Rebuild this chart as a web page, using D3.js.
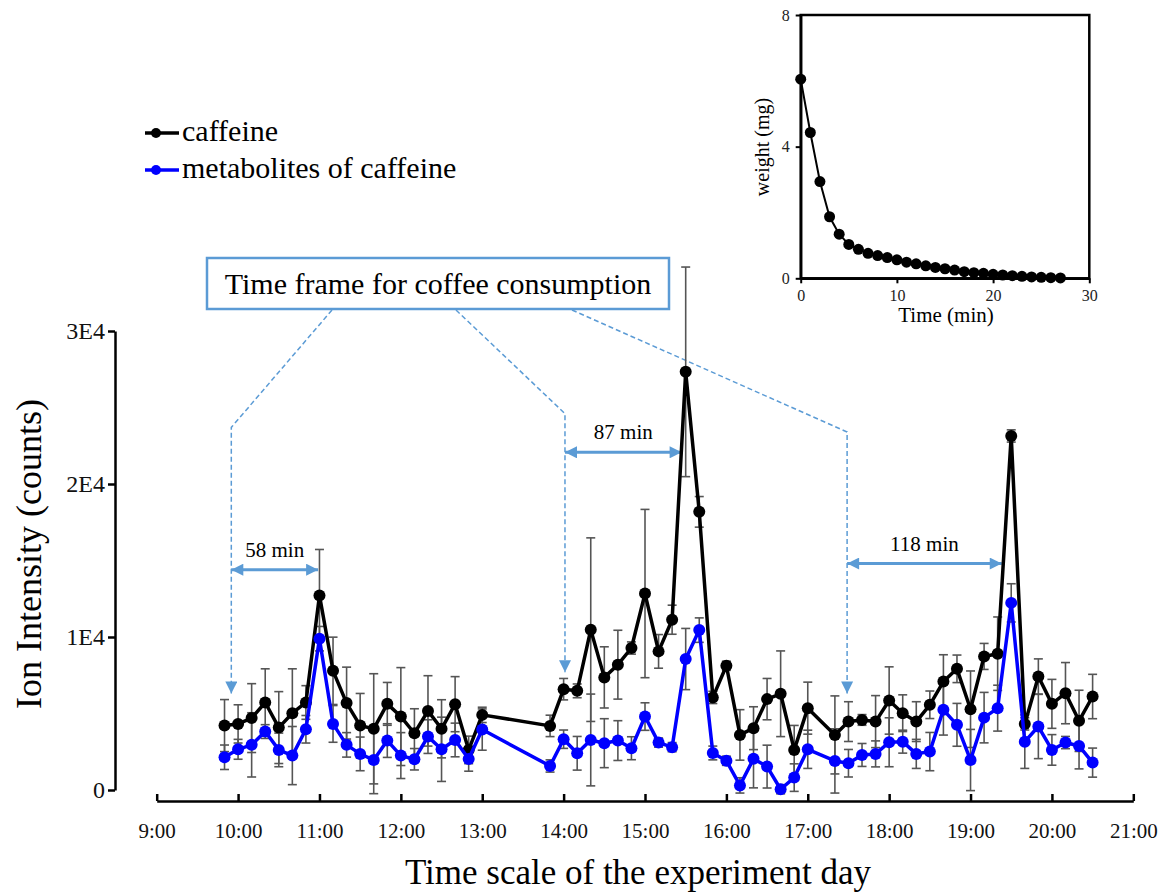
<!DOCTYPE html>
<html>
<head>
<meta charset="utf-8">
<script src="https://cdn.jsdelivr.net/npm/d3@7"></script>
<style>
  body { margin: 0; background: #fff; }
  svg text { font-family: "Liberation Serif", "Times New Roman", serif !important; }
</style>
</head>
<body>
<svg id="svg" width="1172" height="895"></svg>
<script>
// sampling times (clock time)
const times = ["9:50","10:00","10:10","10:20","10:30","10:40","10:50","11:00","11:10","11:20",
  "11:30","11:40","11:50","12:00","12:10","12:20","12:30","12:40","12:50","13:00",
  "13:50","14:00","14:10","14:20","14:30","14:40","14:50","15:00","15:10","15:20",
  "15:30","15:40","15:50","16:00","16:10","16:20","16:30","16:40","16:50","17:00",
  "17:20","17:30","17:40","17:50","18:00","18:10","18:20","18:30","18:40","18:50",
  "19:00","19:10","19:20","19:30","19:40","19:50","20:00","20:10","20:20","20:30"];

const caffeine = [4210,4320,4700,5720,4080,5020,5720,12720,7790,5680,
  4210,4000,5630,4800,3710,5170,4000,5610,2620,4910,
  4190,6590,6480,10480,7360,8190,9280,12840,9060,11130,
  27330,18180,6050,8120,3600,4040,5940,6290,2620,5350,
  3600,4470,4580,4470,5850,5020,4470,5570,7090,7920,
  5280,8730,8910,23140,4320,7420,5630,6330,4520,6110];
const caffeineErr = [1700,1250,2250,2200,2350,2900,1100,3000,2200,2350,
  2100,3600,1400,3200,1600,2300,1900,1800,900,500,
  700,700,450,6000,2000,2250,400,5500,1100,950,
  6850,1000,400,300,1650,1400,1350,2800,1600,1700,
  2550,1300,350,1700,2200,1200,1300,900,1750,900,
  2500,850,2400,400,400,1150,1600,2000,2000,1450];

const metabolites = [2140,2660,2950,3820,2620,2250,3970,9890,4320,2950,
  2360,1960,3230,2250,2010,3490,2660,3270,2030,3950,
  1570,3320,2400,3270,3060,3230,2730,4800,3100,2800,
  8560,10450,2420,1910,300,2040,1530,50,810,2660,
  1900,1750,2290,2360,3120,3160,2360,2510,5240,4260,
  1960,4730,5350,12230,3160,4150,2620,3100,2880,1790];
const metabolitesErr = [800,650,2100,450,1100,1900,900,800,1200,800,
  1100,2200,1100,1500,700,1100,2100,1100,800,1350,
  400,600,1100,3000,1600,1300,750,900,300,300,
  2000,800,450,300,500,1900,1400,300,900,1250,
  2100,900,750,850,1600,750,950,1250,1650,1400,
  2000,1650,1500,1250,1750,2100,1000,400,1500,950];

const xTicks = ["9:00","10:00","11:00","12:00","13:00","14:00","15:00","16:00","17:00","18:00","19:00","20:00","21:00"];
const yTicks = [0, 10000, 20000, 30000];
const yTickLabels = ["0","1E4","2E4","3E4"];

// inset: weight of coffee sample vs time
const insetTime = [0,1,2,3,4,5,6,7,8,9,10,11,12,13,14,15,16,17,18,19,20,21,22,23,24,25,26,27];
const insetWeight = [6.05,4.43,2.94,1.87,1.34,1.03,0.88,0.76,0.69,0.63,0.56,0.49,0.44,0.38,0.33,
  0.29,0.25,0.20,0.17,0.15,0.12,0.10,0.08,0.06,0.04,0.03,0.02,0.01];

// coffee consumption markers: start time, knee height, arrow end time, arrow height, label
const intakes = [
  {start: "9:55", knee: 23700, tip: 6300, end: "10:59", arrowY: 14400, label: "58 min", boxX: 332},
  {start: "14:01", knee: 24600, tip: 7700, end: "15:27", arrowY: 22070, label: "87 min", boxX: 456},
  {start: "17:29", knee: 23400, tip: 6300, end: "19:23", arrowY: 14800, label: "118 min", boxX: 572}
];

const toMin = s => { const p = s.split(":"); return +p[0] * 60 + +p[1]; };

const svg = d3.select("#svg");
const annoBlue = "#5b9bd5";

const x = d3.scaleLinear().domain([540, 1260]).range([156.7, 1133.3]);
const y = d3.scaleLinear().domain([0, 30000]).range([790, 331]);

// arrow markers
const defs = svg.append("defs");
defs.append("marker").attr("id", "ah")
    .attr("viewBox", "0 0 10 10").attr("refX", 10).attr("refY", 5)
    .attr("markerWidth", 4.5).attr("markerHeight", 4)
    .attr("markerUnits", "strokeWidth").attr("orient", "auto-start-reverse")
  .append("path").attr("d", "M0,0L10,5L0,10z").attr("fill", annoBlue);
defs.append("marker").attr("id", "ahd")
    .attr("viewBox", "0 0 10 10").attr("refX", 10).attr("refY", 5)
    .attr("markerWidth", 14).attr("markerHeight", 12)
    .attr("markerUnits", "userSpaceOnUse").attr("orient", "auto")
  .append("path").attr("d", "M0,0L10,5L0,10z").attr("fill", annoBlue);

// axes
const yAxis = svg.append("g")
    .attr("transform", "translate(115,0)")
    .call(d3.axisLeft(y).tickValues(yTicks).tickFormat((d, i) => yTickLabels[i]).tickSize(7).tickPadding(3).tickSizeOuter(0));
yAxis.select(".domain").attr("stroke-width", 2.5);
yAxis.selectAll(".tick line").attr("stroke-width", 2.5);
yAxis.selectAll("text").attr("font-size", 24).attr("fill", "#111");

const xAxis = svg.append("g")
    .attr("transform", "translate(0,801)")
    .call(d3.axisBottom(x).tickValues(xTicks.map(toMin)).tickFormat((d, i) => xTicks[i]).tickSize(-7).tickPadding(22).tickSizeOuter(0));
xAxis.select(".domain").attr("stroke-width", 2.5);
xAxis.selectAll(".tick line").attr("stroke-width", 2.5);
xAxis.selectAll("text").attr("font-size", 21).attr("fill", "#111");

svg.append("text")
    .attr("transform", "translate(41,554) rotate(-90)")
    .attr("text-anchor", "middle")
    .attr("font-size", 36)
    .text("Ion Intensity (counts)");

svg.append("text")
    .attr("x", 638).attr("y", 884)
    .attr("text-anchor", "middle")
    .attr("font-size", 35)
    .text("Time scale of the experiment day");

// consumption annotations
svg.append("rect")
    .attr("x", 207).attr("y", 258).attr("width", 462).attr("height", 51)
    .attr("fill", "#fff").attr("stroke", annoBlue).attr("stroke-width", 2.5);
svg.append("text")
    .attr("x", 438).attr("y", 294)
    .attr("text-anchor", "middle")
    .attr("font-size", 30)
    .text("Time frame for coffee consumption");

intakes.forEach(d => {
  const xs = x(toMin(d.start));
  svg.append("path")
      .attr("d", "M" + d.boxX + ",310L" + xs + "," + y(d.knee) + "L" + xs + "," + y(d.tip))
      .attr("fill", "none").attr("stroke", annoBlue).attr("stroke-width", 1.5)
      .attr("stroke-dasharray", "5,3")
      .attr("marker-end", "url(#ahd)");
  svg.append("line")
      .attr("x1", xs).attr("x2", x(toMin(d.end)))
      .attr("y1", y(d.arrowY)).attr("y2", y(d.arrowY))
      .attr("stroke", annoBlue).attr("stroke-width", 3)
      .attr("marker-start", "url(#ah)").attr("marker-end", "url(#ah)");
  svg.append("text")
      .attr("x", (xs + x(toMin(d.end))) / 2).attr("y", y(d.arrowY) - 13)
      .attr("text-anchor", "middle")
      .attr("font-size", 21)
      .text(d.label);
});

// series data
const mk = (vals, errs) => times.map((t, i) => ({t: toMin(t), v: vals[i], e: errs[i]}));
const series = [
  {name: "caffeine", color: "#000", data: mk(caffeine, caffeineErr)},
  {name: "metabolites of caffeine", color: "#0000ff", data: mk(metabolites, metabolitesErr)}
];

// error bars
series.forEach(s => {
  const g = svg.append("g").attr("stroke", "#555").attr("stroke-width", 1.6);
  s.data.forEach(d => {
    const cx = x(d.t);
    g.append("line").attr("x1", cx).attr("x2", cx).attr("y1", y(d.v - d.e)).attr("y2", y(d.v + d.e));
    g.append("line").attr("x1", cx - 4.5).attr("x2", cx + 4.5).attr("y1", y(d.v - d.e)).attr("y2", y(d.v - d.e));
    g.append("line").attr("x1", cx - 4.5).attr("x2", cx + 4.5).attr("y1", y(d.v + d.e)).attr("y2", y(d.v + d.e));
  });
});

const line = d3.line().x(d => x(d.t)).y(d => y(d.v));
series.forEach(s => {
  svg.append("path").datum(s.data)
      .attr("d", line).attr("fill", "none")
      .attr("stroke", s.color).attr("stroke-width", 3.5).attr("stroke-linejoin", "round");
  svg.append("g").selectAll("circle").data(s.data).enter().append("circle")
      .attr("cx", d => x(d.t)).attr("cy", d => y(d.v)).attr("r", 6)
      .attr("fill", s.color);
});

// legend
const legend = svg.append("g").selectAll("g").data(series).enter().append("g")
    .attr("transform", (d, i) => "translate(145," + (133 + i * 37) + ")");
legend.append("line").attr("x1", 0).attr("x2", 34).attr("stroke", d => d.color).attr("stroke-width", 3.5);
legend.append("circle").attr("cx", 11).attr("r", 5).attr("fill", d => d.color);
legend.append("text").attr("x", 37).attr("dy", "0.28em").attr("font-size", 30).text(d => d.name);

// inset chart
const ix = d3.scaleLinear().domain([0, 30]).range([800.7, 1089.3]);
const iy = d3.scaleLinear().domain([0, 8]).range([278.3, 15]);

svg.append("rect")
    .attr("x", ix(0)).attr("y", iy(8))
    .attr("width", ix(30) - ix(0)).attr("height", iy(0) - iy(8))
    .attr("fill", "none").attr("stroke", "#000").attr("stroke-width", 2.5);

const iyAxis = svg.append("g").attr("transform", "translate(" + ix(0) + ",0)")
    .call(d3.axisLeft(iy).tickValues([0, 4, 8]).tickSize(5).tickPadding(6).tickSizeOuter(0));
iyAxis.select(".domain").attr("stroke-width", 2.5);
iyAxis.selectAll(".tick line").attr("stroke-width", 2);
iyAxis.selectAll("text").attr("font-size", 16).attr("fill", "#222");

const ixAxis = svg.append("g").attr("transform", "translate(0," + iy(0) + ")")
    .call(d3.axisBottom(ix).tickValues([0, 10, 20, 30]).tickSize(5).tickPadding(6).tickSizeOuter(0));
ixAxis.select(".domain").attr("stroke-width", 2.5);
ixAxis.selectAll(".tick line").attr("stroke-width", 2);
ixAxis.selectAll("text").attr("font-size", 16).attr("fill", "#222");

svg.append("text")
    .attr("x", 946).attr("y", 322)
    .attr("text-anchor", "middle").attr("font-size", 21)
    .text("Time (min)");
svg.append("text")
    .attr("transform", "translate(769,147) rotate(-90)")
    .attr("text-anchor", "middle").attr("font-size", 20)
    .text("weight (mg)");

const insetData = insetTime.map((t, i) => ({t: t, w: insetWeight[i]}));
svg.append("path").datum(insetData)
    .attr("d", d3.line().x(d => ix(d.t)).y(d => iy(d.w)))
    .attr("fill", "none").attr("stroke", "#000").attr("stroke-width", 2);
svg.append("g").selectAll("circle").data(insetData).enter().append("circle")
    .attr("cx", d => ix(d.t)).attr("cy", d => iy(d.w)).attr("r", 5.5).attr("fill", "#000");
</script>
</body>
</html>
